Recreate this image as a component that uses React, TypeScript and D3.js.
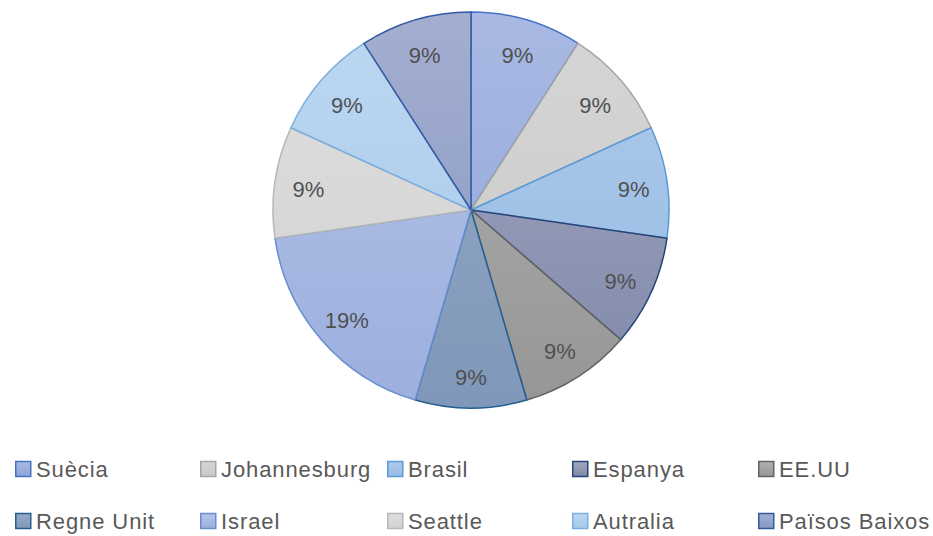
import React, { useEffect, useRef } from "react";
import * as d3 from "d3";

// dades llegides del gràfic
const categories = [
  "Suècia",
  "Johannesburg",
  "Brasil",
  "Espanya",
  "EE.UU",
  "Regne Unit",
  "Israel",
  "Seattle",
  "Autralia",
  "Països Baixos",
];
const values = [1, 1, 1, 1, 1, 1, 2, 1, 1, 1];
const labels = ["9%", "9%", "9%", "9%", "9%", "9%", "19%", "9%", "9%", "9%"];

const fillTop = ["#a9b9e3", "#d6d6d6", "#acc9ea", "#a3a9c0", "#b0b0b0", "#97aac6", "#b4c3e6", "#dedede", "#bdd7f1", "#a3aed0"];
const fillBottom = ["#8ea4d9", "#c8c8c8", "#97bce5", "#7f88aa", "#969696", "#7f97b9", "#9cafde", "#d2d2d2", "#a5c9eb", "#8898c4"];
const strokes = ["#4472c4", "#a5a5a5", "#5b9bd5", "#264478", "#636363", "#255e91", "#698ed0", "#b7b7b7", "#7cafdd", "#335aa1"];

const W = 933;
const H = 536;

function App() {
  const ref = useRef<SVGSVGElement | null>(null);

  useEffect(() => {
    const svg = d3.select(ref.current);
    svg.selectAll("*").remove();

    const cx = 471;
    const cy = 210;
    const R = 198;

    const defs = svg.append("defs");
    categories.forEach((c, i) => {
      const g = defs
        .append("linearGradient")
        .attr("id", "grad" + i)
        .attr("gradientUnits", "userSpaceOnUse")
        .attr("x1", 0)
        .attr("y1", -R)
        .attr("x2", 0)
        .attr("y2", R);
      g.append("stop").attr("offset", "0%").attr("stop-color", fillTop[i]);
      g.append("stop").attr("offset", "100%").attr("stop-color", fillBottom[i]);

      const lg = defs
        .append("linearGradient")
        .attr("id", "lg" + i)
        .attr("x1", 0)
        .attr("y1", 0)
        .attr("x2", 0)
        .attr("y2", 1);
      lg.append("stop").attr("offset", "0%").attr("stop-color", fillTop[i]);
      lg.append("stop").attr("offset", "100%").attr("stop-color", fillBottom[i]);
    });

    const pie = d3.pie<number>().sort(null).value((d) => d);
    const arcs = pie(values);
    const arc = d3.arc<d3.PieArcDatum<number>>().innerRadius(0).outerRadius(R);
    const labelArc = d3
      .arc<d3.PieArcDatum<number>>()
      .innerRadius(R * 0.83)
      .outerRadius(R * 0.83);

    const g = svg.append("g").attr("transform", `translate(${cx},${cy})`);

    g.append("g")
      .selectAll("path")
      .data(arcs)
      .join("path")
      .attr("d", (d) => arc(d) as string)
      .attr("fill", (d, i) => `url(#grad${i})`)
      .attr("stroke", (d, i) => strokes[i])
      .attr("stroke-width", 1.5)
      .attr("stroke-linejoin", "round");

    // etiquetes (una mica més avall, com a l'Excel)
    g.append("g")
      .selectAll("text")
      .data(arcs)
      .join("text")
      .attr("transform", (d) => {
        const [x, y] = labelArc.centroid(d);
        return `translate(${x},${y + 3})`;
      })
      .attr("text-anchor", "middle")
      .attr("dy", "0.35em")
      .attr("fill", "#505050")
      .style("font", "22px 'Liberation Sans', Arial, sans-serif")
      .text((d, i) => labels[i]);

    // llegenda
    const colX = [15, 200, 387, 572, 758];
    const rowY = [469, 521];
    const legend = svg.append("g");
    categories.forEach((c, i) => {
      const col = i % 5;
      const row = Math.floor(i / 5);
      const item = legend
        .append("g")
        .attr("transform", `translate(${colX[col]},${rowY[row]})`);
      item
        .append("rect")
        .attr("x", 0.75)
        .attr("y", -7.5)
        .attr("width", 15)
        .attr("height", 15)
        .attr("fill", `url(#lg${i})`)
        .attr("stroke", strokes[i])
        .attr("stroke-width", 1.5);
      item
        .append("text")
        .attr("x", 21)
        .attr("dy", "0.36em")
        .attr("fill", "#595959")
        .style("font", "22px 'Liberation Sans', Arial, sans-serif")
        .style("letter-spacing", "0.9px")
        .text(c);
    });
  }, []);

  return (
    <svg
      ref={ref}
      width={W}
      height={H}
      style={{ position: "absolute", left: 0, top: 0, background: "#fff" }}
    />
  );
}

export default App;
